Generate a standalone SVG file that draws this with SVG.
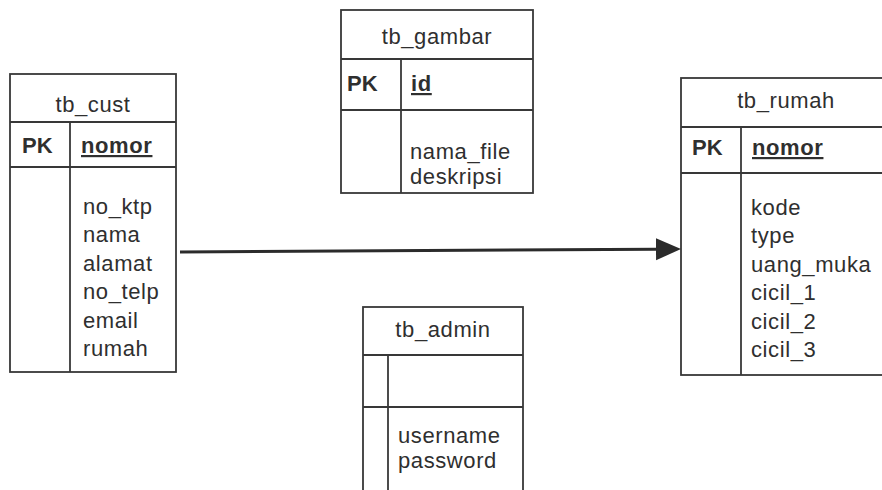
<svg xmlns="http://www.w3.org/2000/svg" width="882" height="490" viewBox="0 0 882 490">
  <defs>
    <!-- filled arrowhead; starts where the connector line stops -->
    <marker id="arrowHead" markerUnits="userSpaceOnUse" markerWidth="26" markerHeight="24" refX="0" refY="12" orient="auto">
      <path d="M0,1 L25,12 L0,23 Z" fill="#2b2b2b"/>
    </marker>
    <style>
      .frame{fill:none;stroke:#383838;stroke-width:1.8}
      .rule{stroke:#383838;stroke-width:1.8}
      .link{stroke:#2b2b2b;stroke-width:3;fill:none}
      text{font-family:"Liberation Sans",Arial,Helvetica,sans-serif;font-size:22px;fill:#2f2f2f;letter-spacing:0.6px}
      .title{text-anchor:middle}
      .pk{font-weight:bold;letter-spacing:0}
      .key{font-weight:bold;text-decoration:underline}
    </style>
  </defs>

  <rect width="882" height="490" fill="#ffffff"/>

  <!-- customer table -->
  <g id="tb_cust">
    <rect class="frame" x="10" y="74" width="166" height="298"/>
    <line class="rule" x1="10" y1="122" x2="176" y2="122"/>
    <line class="rule" x1="10" y1="167" x2="176" y2="167"/>
    <line class="rule" x1="70" y1="122" x2="70" y2="372"/>
    <text class="title" x="93" y="112">tb_cust</text>
    <text class="pk" x="22" y="153">PK</text>
    <text class="key" x="81" y="153">nomor</text>
    <text x="83" y="214">no_ktp</text>
    <text x="83" y="242">nama</text>
    <text x="83" y="271">alamat</text>
    <text x="83" y="299">no_telp</text>
    <text x="83" y="328">email</text>
    <text x="83" y="356">rumah</text>
  </g>

  <!-- picture table -->
  <g id="tb_gambar">
    <rect class="frame" x="341" y="10" width="192" height="183"/>
    <line class="rule" x1="341" y1="59" x2="533" y2="59"/>
    <line class="rule" x1="341" y1="110" x2="533" y2="110"/>
    <line class="rule" x1="401" y1="59" x2="401" y2="193"/>
    <text class="title" x="437" y="44">tb_gambar</text>
    <text class="pk" x="347" y="91">PK</text>
    <text class="key" x="411" y="91">id</text>
    <text x="410" y="159">nama_file</text>
    <text x="410" y="184">deskripsi</text>
  </g>

  <!-- house table (runs past the right edge) -->
  <g id="tb_rumah">
    <rect class="frame" x="681" y="78" width="212" height="297"/>
    <line class="rule" x1="681" y1="127" x2="893" y2="127"/>
    <line class="rule" x1="681" y1="173" x2="893" y2="173"/>
    <line class="rule" x1="741" y1="127" x2="741" y2="375"/>
    <text class="title" x="786" y="108">tb_rumah</text>
    <text class="pk" x="692" y="155">PK</text>
    <text class="key" x="752" y="155">nomor</text>
    <text x="751" y="215">kode</text>
    <text x="751" y="243">type</text>
    <text x="751" y="272">uang_muka</text>
    <text x="751" y="300">cicil_1</text>
    <text x="751" y="329">cicil_2</text>
    <text x="751" y="357">cicil_3</text>
  </g>

  <!-- admin table (runs past the bottom edge) -->
  <g id="tb_admin">
    <rect class="frame" x="363" y="307" width="160" height="200"/>
    <line class="rule" x1="363" y1="355" x2="523" y2="355"/>
    <line class="rule" x1="363" y1="407" x2="523" y2="407"/>
    <line class="rule" x1="388" y1="355" x2="388" y2="500"/>
    <text class="title" x="443" y="337">tb_admin</text>
    <text x="398" y="443">username</text>
    <text x="398" y="468">password</text>
  </g>

  <!-- relationships -->
  <g id="connectors">
    <line class="link" x1="180" y1="252" x2="656" y2="249.2" marker-end="url(#arrowHead)"/>
  </g>
</svg>
